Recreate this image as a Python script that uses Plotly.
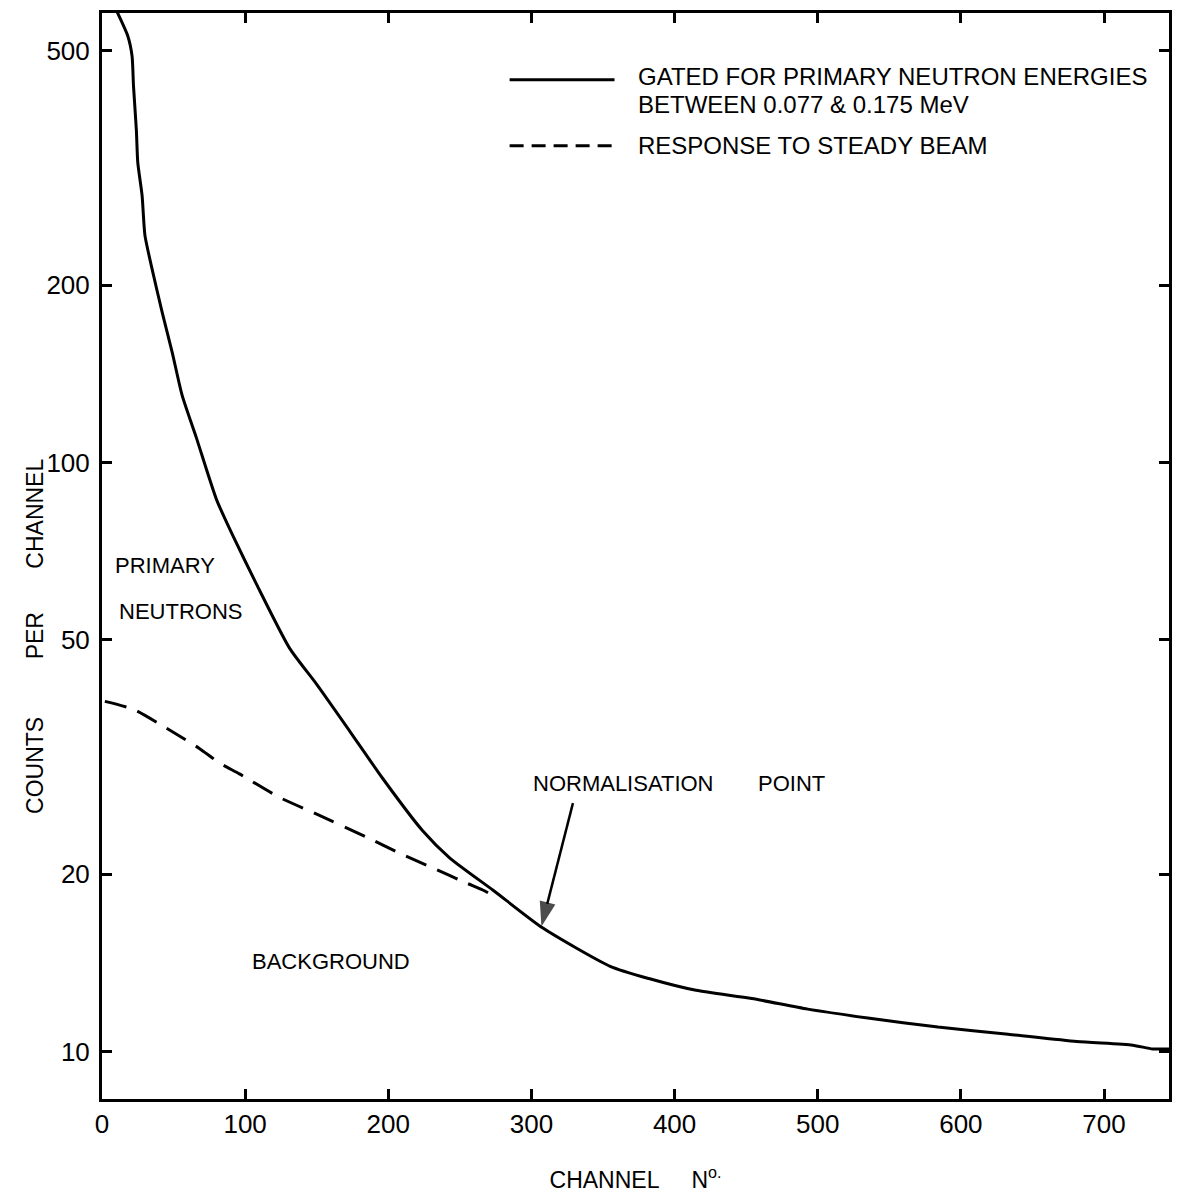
import numpy as np
import plotly.graph_objects as go

# ---- data ----
gated_channel = [8, 18, 21, 22, 24, 25, 28, 30, 35, 42, 49, 56, 66, 80, 91, 108, 131, 150,
                 173, 196, 224, 243, 273, 308, 355, 382, 415, 454, 493, 535, 584, 633, 681,
                 720, 734, 746]
gated_counts = [600, 530, 490, 436, 367, 323, 284, 243, 213, 180, 154, 130, 110, 86.5, 75.5,
                62.1, 48.4, 42.0, 35.0, 29.1, 23.7, 21.3, 18.8, 16.2, 13.95, 13.3, 12.7, 12.3,
                11.8, 11.4, 11.0, 10.7, 10.4, 10.25, 10.1, 10.1]

steady_channel = [2, 22, 45, 68, 82, 96, 124, 150, 185, 208, 231, 255, 266, 274]
steady_counts = [39.3, 38.1, 35.4, 32.7, 30.9, 29.6, 27.0, 25.3, 23.1, 21.7, 20.5, 19.3, 18.8, 18.35]

x_ticks = [0, 100, 200, 300, 400, 500, 600, 700]
y_ticks = [10, 20, 50, 100, 200, 500]

arrow_channel = [329, 307]     # tail, tip (normalisation point)
arrow_counts = [26.4, 16.3]

FONT = "Liberation Sans, Arial, sans-serif"

fig = go.Figure()
fig.add_trace(go.Scatter(x=gated_channel, y=gated_counts, mode="lines",
                         line=dict(color="black", width=3, shape="spline", smoothing=0.6),
                         showlegend=False))
fig.add_trace(go.Scatter(x=steady_channel, y=steady_counts, mode="lines",
                         line=dict(color="black", width=3, dash="22px,12px",
                                   shape="spline", smoothing=0.6),
                         showlegend=False))
fig.add_trace(go.Scatter(x=arrow_channel, y=arrow_counts, mode="lines+markers",
                         line=dict(color="black", width=2.5),
                         marker=dict(symbol=["circle", "arrow"], size=[0, 26],
                                     angleref="previous", color="black",
                                     line=dict(width=0)),
                         showlegend=False, hoverinfo="skip"))

axis_common = dict(showline=True, linecolor="black", linewidth=3, mirror="ticks",
                   ticks="inside", ticklen=10, tickwidth=2.5, tickcolor="black",
                   showgrid=False, zeroline=False,
                   tickfont=dict(family=FONT, size=26, color="black"))

fig.update_xaxes(range=[0, 745.4], tickvals=x_ticks, ticktext=[str(v) for v in x_ticks],
                 ticklabelstandoff=0,
                 title=dict(text="CHANNEL\u00a0\u00a0\u00a0\u00a0\u00a0N<sup>o.</sup>",
                            font=dict(family=FONT, size=23, color="black"), standoff=34),
                 **axis_common)
fig.update_yaxes(type="log", range=[0.9193, 2.7632], tickvals=y_ticks,
                 ticktext=[str(v) for v in y_ticks], ticklabelstandoff=4, **axis_common)

OFF = 8  # page body margin
W, H = 1166, 1187
L, R, T, B = 94, 4, 2, 96
pw, ph = W - L - R, H - T - B

def px(xp):
    return (xp - OFF - L) / pw

def py(yp):
    return 1 - (yp - OFF - T) / ph

anns = []
def txt(text, x, y, size=22, xanchor="center", angle=0, ref="paper"):
    anns.append(dict(text=text, x=x, y=y, xref=ref if ref == "paper" else "x",
                     yref=ref if ref == "paper" else "y",
                     showarrow=False, xanchor=xanchor, yanchor="middle", textangle=angle,
                     font=dict(family=FONT, size=size, color="black")))

# y axis title (three words, widely spaced as in the original)
txt("COUNTS", px(35), py(765), size=23, angle=-90)
txt("PER", px(35), py(635), size=23, angle=-90)
txt("CHANNEL", px(35), py(512), size=23, angle=-90)

# in-plot labels (data coordinates; log axis -> log10 value)
txt("PRIMARY", 7.7, np.log10(66.9), xanchor="left", ref="data")
txt("NEUTRONS", 10.5, np.log10(55.9), xanchor="left", ref="data")
txt("BACKGROUND", 103.3, np.log10(14.2), xanchor="left", ref="data")
txt("NORMALISATION", 299.4, np.log10(28.5), xanchor="left", ref="data")
txt("POINT", 457, np.log10(28.5), xanchor="left", ref="data")

# legend text
txt("GATED FOR PRIMARY NEUTRON ENERGIES", px(636), py(74), size=24, xanchor="left")
txt("BETWEEN 0.077 &amp; 0.175 MeV", px(636), py(102), size=24, xanchor="left")
txt("RESPONSE TO STEADY BEAM", px(636), py(143), size=24, xanchor="left")

shapes = [
    dict(type="line", xref="paper", yref="paper", x0=px(510), x1=px(615), y0=py(77), y1=py(77),
         line=dict(color="black", width=3)),
    dict(type="line", xref="paper", yref="paper", x0=px(510), x1=px(615), y0=py(143), y1=py(143),
         line=dict(color="black", width=3, dash="14px,8px")),
]

fig.update_layout(width=W, height=H, margin=dict(l=L, r=R, t=T, b=B),
                  plot_bgcolor="white", paper_bgcolor="white",
                  annotations=anns, shapes=shapes, showlegend=False)

fig.write_html("out.html")
